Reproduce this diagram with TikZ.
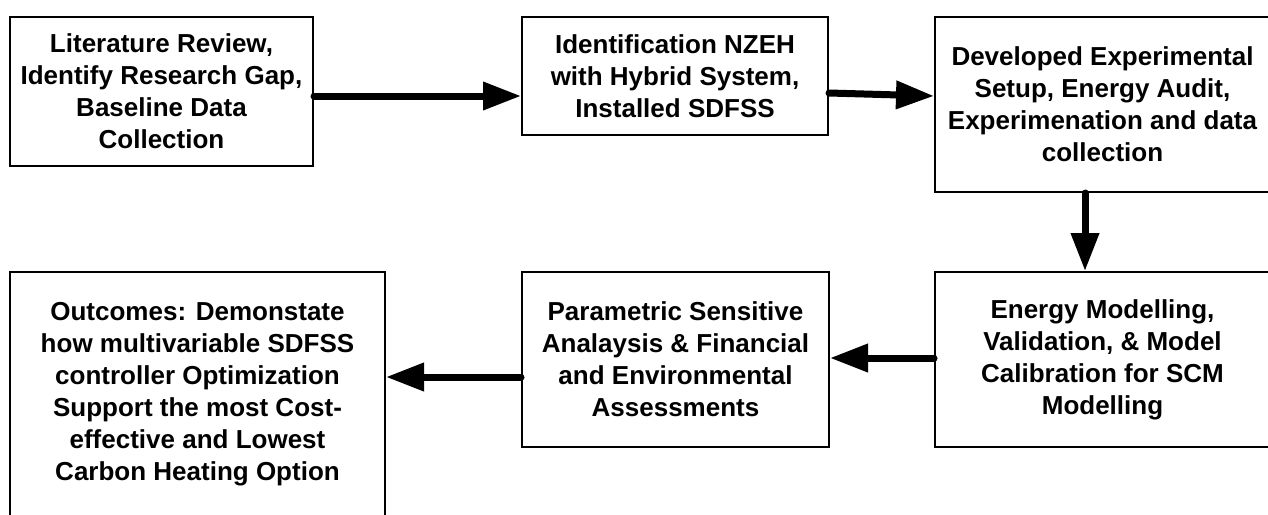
\documentclass[tikz,border=0pt]{standalone}
\usepackage{fontspec}
\setmainfont{Liberation Sans}
\usetikzlibrary{arrows.meta}
\tikzset{
  box/.style={draw=black, line width=1pt, rectangle, align=center, inner sep=0pt,
    font=\bfseries\fontsize{13}{16}\selectfont},
  flow/.style={line width=3.5pt, line cap=round,
    -{Triangle[length=19pt, width=13.5pt]}}
}
\begin{document}
\begin{tikzpicture}[x=0.5pt, y=-0.5pt]
\useasboundingbox (0,0) rectangle (1268,514);
\clip (0,0) rectangle (1268,514);
\fill[white] (0,0) rectangle (1268,514);

\node[box, minimum width=151.5pt, minimum height=74.5pt] (b1) at (161.5,91.5)
  {Literature Review,\\Identify Research Gap,\\Baseline Data\\Collection};
\node[box, minimum width=153pt, minimum height=59pt] (b2) at (675,76)
  {Identification NZEH\\with Hybrid System,\\Installed SDFSS};
\node[box, minimum width=167.5pt, minimum height=87.5pt] (b3) at (1102.5,104.5)
  {Developed Experimental\\Setup, Energy Audit,\\Experimenation and data\\collection};
\node[box, minimum width=167.5pt, minimum height=87.5pt] (b4) at (1102.5,359.5)
  {Energy Modelling,\\Validation, \& Model\\Calibration for SCM\\Modelling};
\node[box, minimum width=153.5pt, minimum height=87.5pt] (b5) at (675.5,359.5)
  {Parametric Sensitive\\Analaysis \& Financial\\and Environmental\\Assessments};
\node[box, minimum width=187.5pt, minimum height=122pt] (b6) at (197.5,394)
  {Outcomes: Demonstate\\how multivariable SDFSS\\controller Optimization\\Support the most Cost-\\effective and Lowest\\Carbon Heating Option};

\draw[flow] (b1.east |- 0,96) -- (b2.west |- 0,96);
\draw[flow] (b2.east |- 0,93) -- (b3.west |- 0,96);
\draw[flow] (b3.south -| 1085,0) -- (b4.north -| 1085,0);
\draw[flow] (b4.west |- 0,358) -- (b5.east |- 0,358);
\draw[flow] (b5.west |- 0,377) -- (b6.east |- 0,377);
\end{tikzpicture}
\end{document}
